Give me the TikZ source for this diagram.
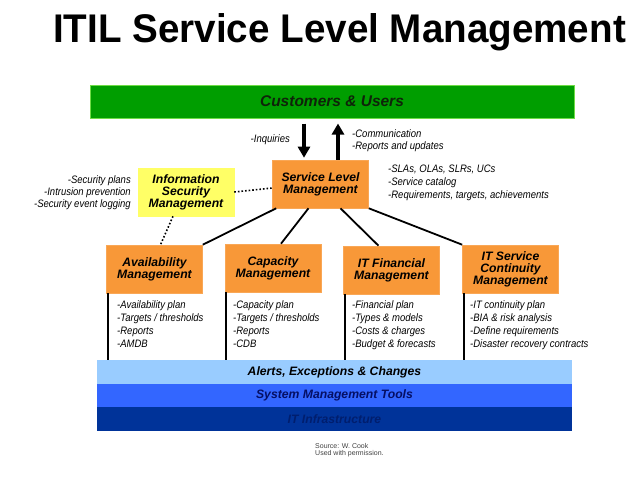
\documentclass[tikz,border=0pt]{standalone}
\usepackage{fontspec}
\setmainfont{Liberation Sans}
\newfontfamily\titlefont[FakeStretch=0.965]{Liberation Sans}
\newfontfamily\notefont[FakeStretch=0.88]{Liberation Sans}
\usetikzlibrary{arrows.meta}

\definecolor{custgreen}{RGB}{0,158,0}
\definecolor{custedge}{RGB}{110,220,70}
\definecolor{custtext}{RGB}{15,35,10}
\definecolor{mgmtorange}{RGB}{248,152,56}
\definecolor{ismyellow}{RGB}{255,255,102}
\definecolor{alertblue}{RGB}{153,204,255}
\definecolor{toolblue}{RGB}{51,102,255}
\definecolor{tooltext}{RGB}{5,15,100}
\definecolor{infrablue}{RGB}{0,51,153}
\definecolor{infratext}{RGB}{0,30,110}

\begin{document}
\begin{tikzpicture}[x=1pt, y=-1pt,
  mgmt/.style={fill=mgmtorange, draw=mgmtorange!85!white, line width=0.6pt, minimum width=96pt, minimum height=48pt, inner sep=0pt, align=center, font=\bfseries\itshape\fontsize{12.2}{12}\selectfont},
  notes/.style={inner sep=0pt, align=left, font=\notefont\itshape\fontsize{10.8}{13}\selectfont},
  band/.style={minimum width=475pt, inner sep=0pt, font=\bfseries\itshape\fontsize{12.2}{14}\selectfont},
  bigarrow/.style={line width=3.5pt, -{Triangle[width=12pt, length=11pt]}},
  stem/.style={line width=1.8pt},
  link/.style={line width=1.8pt},
  dots/.style={line width=1.6pt, dotted}]
  \useasboundingbox (0, 0) rectangle (638, 479);

  % Title
  \node[anchor=base, inner sep=0pt, font=\titlefont\bfseries\fontsize{40}{40}\selectfont] (title) at (339.5, 42) {ITIL Service Level Management};

  % Customers on top
  \node[fill=custgreen, draw=custedge, line width=1pt, minimum width=484pt, minimum height=33pt, inner sep=0pt, text=custtext, font=\bfseries\itshape\fontsize{15.5}{16}\selectfont] (cust) at (332, 101.5) {Customers \& Users};

  % Management boxes
  \node[mgmt] (slm) at (320.5, 184) {Service Level\\Management};
  \node[mgmt, fill=ismyellow, draw=ismyellow] (ism) at (186, 192) {Information\\Security\\Management};
  \node[mgmt] (avail) at (154.5, 269) {Availability\\Management};
  \node[mgmt] (cap) at (273, 268) {Capacity\\Management};
  \node[mgmt] (fin) at (391.5, 270) {IT Financial\\Management};
  \node[mgmt] (itsc) at (510.5, 269) {IT Service\\Continuity\\Management};

  % Bands at the bottom
  \node[band, fill=alertblue, minimum height=24pt] (alerts) at (334.5, 372) {Alerts, Exceptions \& Changes};
  \node[band, fill=toolblue, minimum height=23pt, text=tooltext] (smt) at (334.5, 395.5) {System Management Tools};
  \node[band, fill=infrablue, minimum height=24pt, text=infratext] (iti) at (334.5, 419) {IT Infrastructure};

  % Flows between customers and SLM
  \draw[bigarrow] ([xshift=-16.5pt, yshift=-5pt]slm.north |- cust.south) -- ([xshift=-16.5pt, yshift=2pt]slm.north);
  \draw[bigarrow] ([xshift=17.5pt]slm.north) -- ([xshift=17.5pt, yshift=-5pt]slm.north |- cust.south);
  \node[notes, anchor=east] (inq) at (290, 140) {-Inquiries};
  \node[notes, anchor=west, font=\notefont\itshape\fontsize{10.8}{12}\selectfont] (comm) at (352, 141) {-Communication\\-Reports and updates};

  % SLM to the processes
  \draw[link] ([xshift=4pt]slm.south west) -- (avail.north east);
  \draw[link] ([xshift=-12pt]slm.south) -- ([xshift=8pt]cap.north);
  \draw[link] ([xshift=20pt]slm.south) -- ([xshift=-13pt]fin.north);
  \draw[link] (slm.south east) -- (itsc.north west);
  \draw[dots] (ism.east) -- ([yshift=-4pt]slm.west);
  \draw[dots] ([xshift=-13pt]ism.south) -- ([xshift=6pt]avail.north);

  % Side notes
  \node[notes, anchor=north west] (slmnotes) at (388, 164.5) {-SLAs, OLAs, SLRs, UCs\\-Service catalog\\-Requirements, targets, achievements};
  \node[notes, anchor=north east, align=right, font=\notefont\itshape\fontsize{10.8}{12}\selectfont] (ismnotes) at (131, 175.5) {-Security plans\\-Intrusion prevention\\-Security event logging};

  % Stems down to the bands
  \draw[stem] ([xshift=1.5pt]avail.south west) -- ([xshift=1.5pt]avail.south west |- alerts.north);
  \draw[stem] ([xshift=1.5pt]cap.south west) -- ([xshift=1.5pt]cap.south west |- alerts.north);
  \draw[stem] ([xshift=1.5pt]fin.south west) -- ([xshift=1.5pt]fin.south west |- alerts.north);
  \draw[stem] ([xshift=1.5pt]itsc.south west) -- ([xshift=1.5pt]itsc.south west |- alerts.north);

  % Outputs of each process
  \node[notes, anchor=north west] (availnotes) at (117, 300.5) {-Availability plan\\-Targets / thresholds\\-Reports\\-AMDB};
  \node[notes, anchor=north west] (capnotes) at (233, 300.5) {-Capacity plan\\-Targets / thresholds\\-Reports\\-CDB};
  \node[notes, anchor=north west] (finnotes) at (352, 300.5) {-Financial plan\\-Types \& models\\-Costs \& charges\\-Budget \& forecasts};
  \node[notes, anchor=north west] (itscnotes) at (470, 300.5) {-IT continuity plan\\-BIA \& risk analysis\\-Define requirements\\-Disaster recovery contracts};

  % Source
  \node[anchor=north west, align=left, inner sep=0pt, text=black!75, font=\fontsize{7}{7}\selectfont] (src) at (315, 443.5) {Source: W. Cook\\Used with permission.};
\end{tikzpicture}
\end{document}
